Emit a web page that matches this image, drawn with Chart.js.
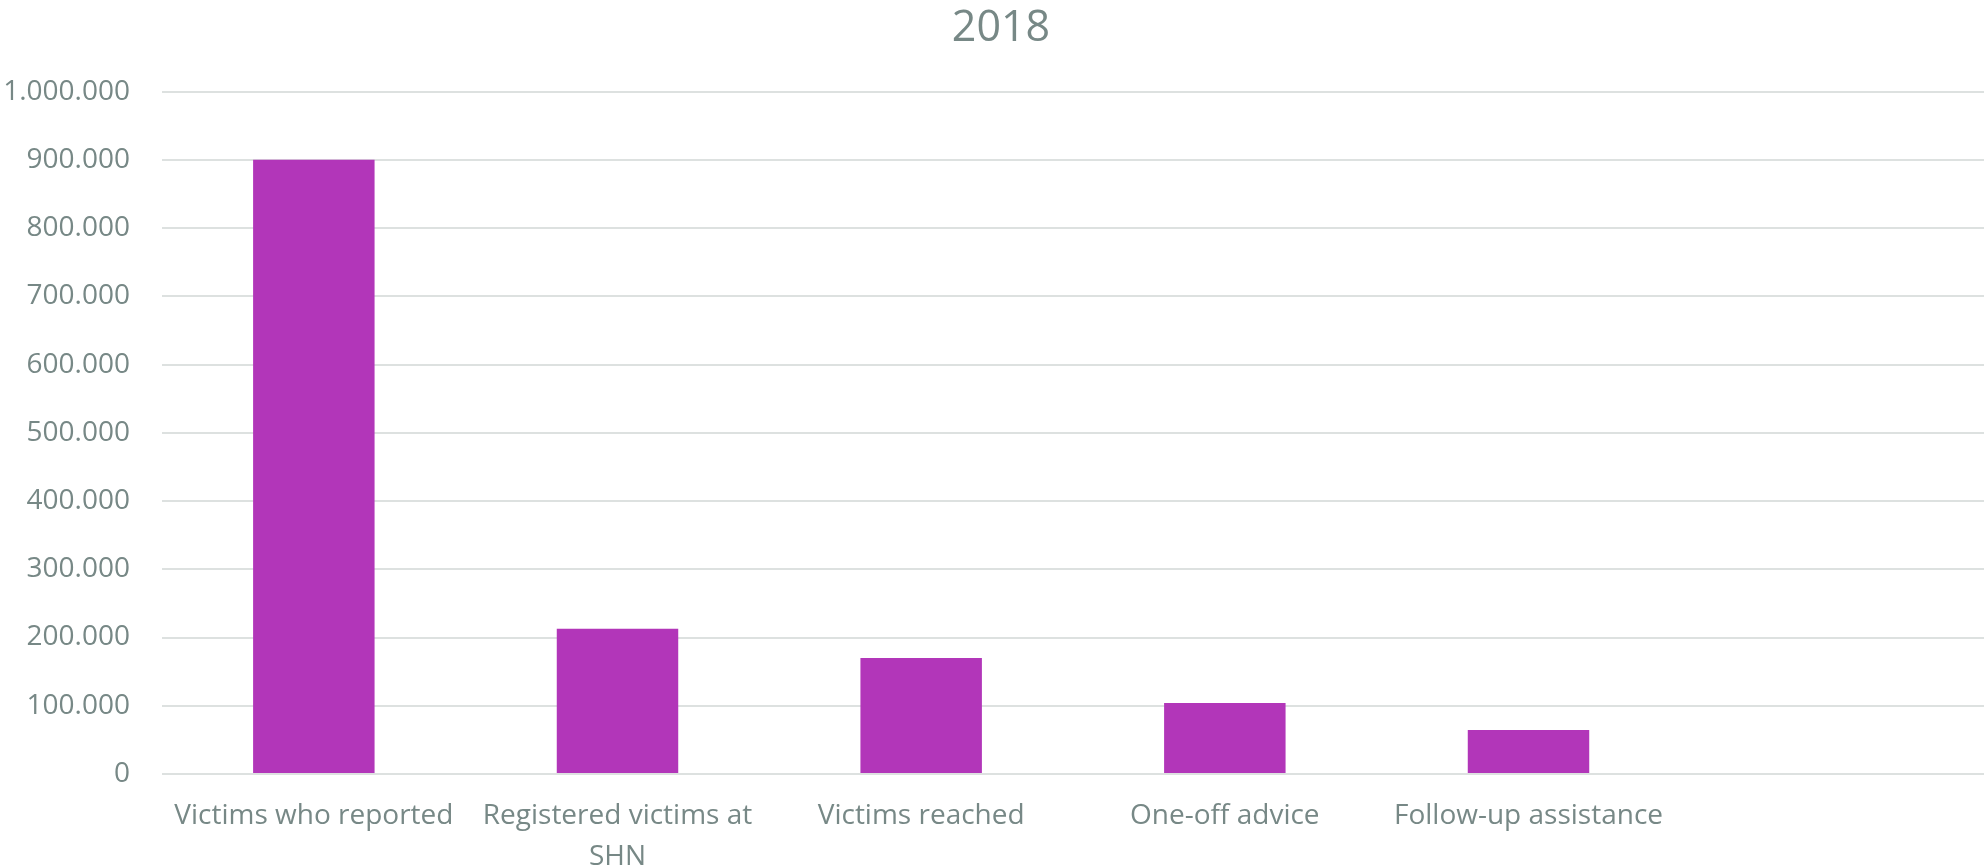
<!DOCTYPE html>
<html>
<head>
<meta charset="utf-8">
<title>2018</title>
<script src="https://cdn.jsdelivr.net/npm/chart.js@4/dist/chart.umd.min.js"></script>
<style>
  html, body { margin: 0; padding: 0; background: #fff; }
  #wrap { width: 1984px; height: 868px; position: relative; }
</style>
</head>
<body>
<div id="wrap"><canvas id="chart" width="1984" height="868"></canvas></div>
<script>
  const title = "2018";
  const categories = [
    "Victims who reported",
    ["Registered victims at", "SHN"],
    "Victims reached",
    "One-off advice",
    "Follow-up assistance",
    ""
  ];
  const values = [900000, 213000, 170000, 104000, 64500, null];
  const yMin = 0;
  const yMax = 1000000;
  const yStep = 100000;

  const textColor = "#778886";
  const gridColor = "#dde1e0";
  const barColor = "#b236b9";
  const fontFamily = "'Open Sans', 'Noto Sans', sans-serif";

  function dotThousands(v) {
    return String(v).replace(/\B(?=(\d{3})+(?!\d))/g, ".");
  }

  // nudge the title a little right, like the original sits
  const titleShift = {
    id: "titleShift",
    afterLayout(chart) {
      const t = chart.titleBlock;
      if (!t) return;
      t.left += 9;
      t.right += 9;
    },
  };

  new Chart(document.getElementById("chart"), {
    type: "bar",
    data: {
      labels: categories,
      datasets: [{
        label: title,
        data: values,
        backgroundColor: barColor,
        borderWidth: 0,
        categoryPercentage: 1,
        barPercentage: 0.4,
      }],
    },
    options: {
      responsive: false,
      animation: false,
      layout: { padding: { left: 0, right: 0, top: 0, bottom: 0 } },
      plugins: {
        legend: { display: false },
        tooltip: { enabled: false },
        title: {
          display: true,
          text: title,
          color: textColor,
          font: { family: fontFamily, size: 43, weight: "normal" },
          padding: { top: 3, bottom: 37 },
        },
      },
      scales: {
        x: {
          grid: { display: false, drawTicks: false },
          border: { display: false },
          ticks: {
            color: textColor,
            font: { family: fontFamily, size: 28, lineHeight: 1.45 },
            padding: 22,
            maxRotation: 0,
            autoSkip: false,
          },
          afterFit(scale) { scale.height = 94; },
        },
        y: {
          min: yMin,
          max: yMax,
          grid: { color: gridColor, lineWidth: 2, drawTicks: false },
          border: { display: false },
          ticks: {
            stepSize: yStep,
            color: textColor,
            font: { family: fontFamily, size: 28 },
            padding: 32,
            callback: (v) => dotThousands(v),
          },
          afterFit(scale) { scale.width = 162; },
        },
      },
    },
    plugins: [titleShift],
  });
</script>
</body>
</html>
